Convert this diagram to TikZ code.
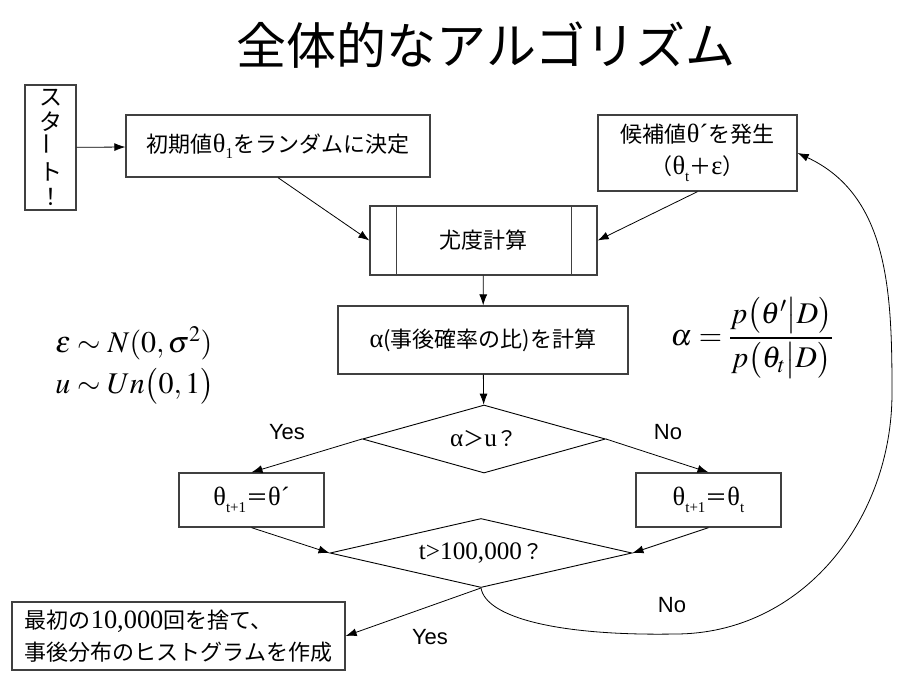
\documentclass[tikz,border=0pt]{standalone}
\usepackage{amsmath}
\usepackage{mathptmx}
\usepackage{fontspec}
\setmainfont{Noto Sans CJK JP}
\newfontfamily\tms[Scale=1.2]{Liberation Serif}
\newfontfamily\ars{Liberation Sans}
\usetikzlibrary{shapes,arrows.meta}
\tikzstyle{block} = [rectangle, draw=black!75, line width=1.3pt,
    text centered, inner sep=0pt, font=\fontsize{22}{26}\selectfont]
\tikzstyle{decide} = [diamond, draw, line width=0.9pt,
    inner sep=0pt, font=\fontsize{21}{25}\selectfont]
\tikzstyle{answer} = [font=\ars\fontsize{22}{25}\selectfont]
\tikzstyle{formula} = [inner sep=0pt, font=\fontsize{30}{36}\selectfont]
\newcommand{\gk}[1]{{\tms #1}}
\newcommand{\lowsub}[1]{\raisebox{-0.55ex}{\tms\fontsize{12.5}{12.5}\selectfont #1}}

\begin{document}
\begin{tikzpicture}[x=1pt, y=-1pt, >={Latex[length=11pt,width=8pt]}, line width=0.8pt]
    \useasboundingbox (0,0) rectangle (920,683);
    \node (title) [font=\fontsize{50}{56}\selectfont] at (486,45) {全体的なアルゴリズム};

    \node (st) [block, align=center, minimum width=51, minimum height=125,
        font=\fontsize{23}{25}\selectfont] at (50.5,147.5)
        {ス\\タ\\\rotatebox{90}{ー}\\ト\\！};
    \node (b1) [block, minimum width=304, minimum height=62] at (278,146)
        {初期値\gk{θ}\lowsub{1}をランダムに決定};
    \node (cand) [block, align=center, minimum width=199, minimum height=76,
        font=\fontsize{22}{32}\selectfont] at (697.5,153)
        {候補値\gk{θ´}を発生\\（\gk{θ}\lowsub{t}＋\gk{ε}）};
    \node (lik) [block, minimum width=227, minimum height=69] at (483.5,240.5) {尤度計算};
    \draw [draw=black!75, line width=1.3pt] ([xshift=27]lik.north west) -- ([xshift=27]lik.south west);
    \draw [draw=black!75, line width=1.3pt] ([xshift=-26]lik.north east) -- ([xshift=-26]lik.south east);
    \node (calc) [block, minimum width=290, minimum height=68] at (483,340)
        {\gk{α}(事後確率の比)を計算};

    % first test
    \node (d1) [decide, aspect=3.57, minimum width=243, minimum height=68] at (484,439)
        {\gk{α}＞\gk{u}？};
    \node (lb) [block, minimum width=145, minimum height=54] at (251.5,500)
        {\gk{θ}\lowsub{t+1}＝\gk{θ´}};
    \node (rb) [block, minimum width=145, minimum height=54] at (708.5,500)
        {\gk{θ}\lowsub{t+1}＝\gk{θ}\lowsub{t}};

    % second test
    \node (d2) [decide, aspect=4.38, minimum width=302, minimum height=69] at (481,553)
        {\gk{t>100,000}？};
    \node (fin) [block, align=left, minimum width=333, minimum height=68,
        font=\fontsize{22}{32}\selectfont] at (178.5,636)
        {最初の\gk{10,000}回を捨て、\\事後分布のヒストグラムを作成};

    \node (yes1) [answer] at (287,432) {Yes};
    \node (no1) [answer] at (668,432) {No};
    \node (no2) [answer] at (672,605) {No};
    \node (yes2) [answer] at (430,637) {Yes};

    \node (eps) [formula, anchor=west] at (55,343) {$\varepsilon\sim N(0,\sigma^{2})$};
    \node (unif) [formula, anchor=west] at (55,386) {$u\sim Un\bigl(0,1\bigr)$};
    \node (ratio) [formula] at (752,338)
        {$\alpha=\dfrac{p\bigl(\theta'\big|D\bigr)}{p\bigl(\theta_t\big|D\bigr)}$};

    \coordinate (lp1) at (675,634);
    \coordinate (lp2) at (892,393);

    \draw [->] (st) -- (b1);
    \draw [->] (b1.south) -- (lik.west);
    \draw [->] (cand.south) -- (lik.east);
    \draw [->] (lik) -- (calc);
    \draw [->] (calc) -- (d1);
    \draw [->] (d1.west) -- (lb.north);
    \draw [->] (d1.east) -- (rb.north);
    \draw [->] (lb.south) -- (d2.west);
    \draw [->] (rb.south) -- (d2.east);
    \draw [->] (d2.south) -- (fin.east);

    % back to a new candidate
    \draw [->] (d2.south) .. controls (486,618) and (560,636) .. (lp1)
        to[out=0, in=-90] (lp2) to[out=90, in=-25] (cand.east);
\end{tikzpicture}
\end{document}
